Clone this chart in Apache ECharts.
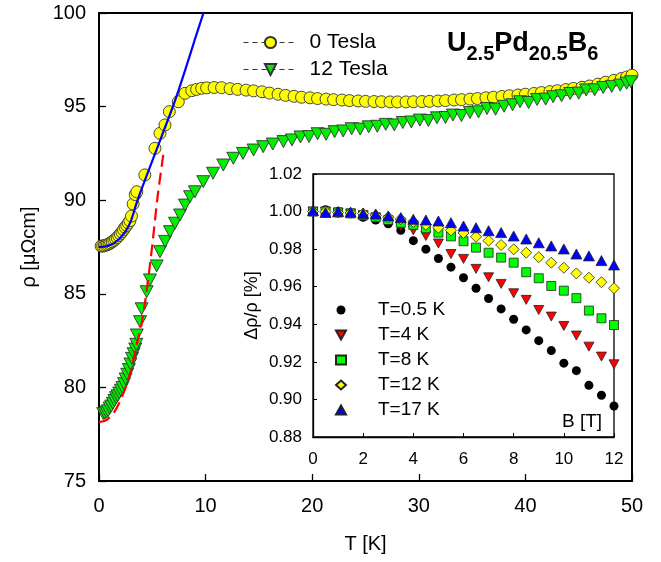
<!DOCTYPE html>
<html>
<head>
<meta charset="utf-8">
<script src="https://cdn.jsdelivr.net/npm/echarts@6/dist/echarts.min.js"></script>
<style>html,body{margin:0;padding:0;background:#fff}#c{width:661px;height:562px}</style>
</head>
<body>
<div id="c"></div>
<script>
// ---- Main plot data: resistivity rho [µΩcm] vs T [K] ----
var tesla0 = [
  [0.2,87.55],[0.35,87.55],[0.5,87.57],[0.65,87.6],[0.8,87.63],[0.95,87.67],[1.1,87.72],[1.25,87.78],
  [1.4,87.85],[1.55,87.92],[1.7,88.0],[1.85,88.1],[2.0,88.2],[2.15,88.3],[2.3,88.42],[2.45,88.55],
  [2.6,88.65],[2.75,88.78],[2.9,88.9],[3.05,89.15],[3.2,89.8],[3.4,90.3],[3.55,90.45],[4.3,91.35],
  [5.25,92.77],[5.72,93.57],[6.19,94.02],[6.6,94.73],[7.44,95.26],[8.07,95.71],[8.7,95.85],[9.16,95.92],
  [9.63,95.98],[10.1,96.0],[10.8,96.02],[11.5,96.01],[12.3,95.96],[13.0,95.92],[13.8,95.88],[14.5,95.84],
  [15.3,95.79],[16.0,95.72],[16.8,95.66],[17.5,95.6],[18.3,95.55],[19.0,95.5],[19.8,95.47],[20.5,95.43],
  [21.3,95.4],[22.0,95.37],[22.8,95.35],[23.5,95.32],[24.3,95.3],[25.0,95.28],[25.8,95.27],[26.5,95.26],
  [27.3,95.25],[28.0,95.25],[28.8,95.25],[29.5,95.26],[30.3,95.27],[31.0,95.28],[31.8,95.3],[32.5,95.32],
  [33.3,95.35],[34.0,95.37],[34.8,95.4],[35.5,95.43],[36.3,95.47],[37.0,95.5],[37.8,95.54],[38.5,95.58],
  [39.3,95.62],[40.0,95.66],[40.8,95.7],[41.5,95.75],[42.3,95.8],[43.0,95.85],[43.8,95.91],[44.5,95.97],
  [45.3,96.03],[46.0,96.1],[46.8,96.2],[47.5,96.3],[48.3,96.4],[49.0,96.5],[49.5,96.58],[50.0,96.68]
];
var tesla12 = [
  [0.4,78.6],[0.55,78.62],[0.7,78.68],[0.85,78.75],[1.0,78.9],[1.15,79.0],[1.3,79.15],[1.45,79.3],
  [1.6,79.45],[1.75,79.55],[1.9,79.7],[2.05,79.85],[2.2,80.0],[2.35,80.2],[2.5,80.45],[2.65,80.7],
  [2.8,80.95],[2.95,81.25],[3.1,81.55],[3.25,81.8],[3.4,82.05],[3.5,82.3],[3.55,82.8],[3.85,83.51],
  [4.0,84.2],[4.47,85.11],[4.78,85.74],[5.41,86.49],[5.72,87.25],[6.2,87.8],[6.66,88.32],[7.13,88.77],
  [7.6,89.21],[8.07,89.74],[8.54,90.19],[9.0,90.45],[9.78,90.99],[10.7,91.44],[11.66,91.88],[12.6,92.24],
  [13.5,92.5],[14.5,92.68],[15.4,92.86],[16.3,93.0],[17.3,93.13],[18.1,93.22],[18.9,93.38],[19.7,93.4],
  [20.5,93.55],[21.3,93.52],[22.1,93.66],[22.9,93.7],[23.7,93.82],[24.5,93.8],[25.3,93.92],[26.1,93.95],
  [26.9,94.05],[27.7,94.02],[28.5,94.15],[29.3,94.18],[30.1,94.28],[30.9,94.26],[31.7,94.4],[32.5,94.42],
  [33.2,94.55],[34.0,94.52],[34.8,94.68],[35.6,94.72],[36.4,94.9],[37.2,94.86],[38.0,95.02],[38.8,95.1],
  [39.5,95.26],[40.3,95.22],[41.1,95.38],[41.9,95.4],[42.6,95.53],[43.4,95.58],[44.2,95.7],[45.0,95.72],
  [45.7,95.89],[46.5,95.9],[47.3,96.02],[48.1,96.08],[48.9,96.15],[49.5,96.25],[49.9,96.33]
];
var fit0 = [[0,87.5],[0.5,87.52],[1,87.6],[1.5,87.75],[2,88.0],[2.5,88.35],[3,88.9],[3.5,89.8],[4,90.6],[5,92.1],[6,93.6],[7,95.1],[8,96.8],[9,98.6],[9.8,100.0]];
var fit12 = [[0,78.15],[0.5,78.2],[1,78.4],[1.5,78.75],[2,79.3],[2.5,80.0],[3,80.9],[3.5,82.2],[4,83.4],[4.5,85.3],[5,87.6],[5.5,90.2],[6.05,92.5]];

// ---- Inset data: Δρ/ρ vs B [T] ----
var fieldB = [0,0.5,1,1.5,2,2.5,3,3.5,4,4.5,5,5.5,6,6.5,7,7.5,8,8.5,9,9.5,10,10.5,11,11.5,12];
var T05 = [1.000,1.001,1.000,0.999,0.997,0.9955,0.9935,0.990,0.9845,0.980,0.975,0.9704,0.9648,0.9592,0.9537,0.9482,0.9427,0.937,0.9313,0.926,0.9193,0.9153,0.9075,0.9022,0.8965];
var T4  = [1.000,1.000,0.9995,0.999,0.998,0.9965,0.9945,0.992,0.990,0.987,0.983,0.9774,0.9748,0.9695,0.965,0.9615,0.9565,0.953,0.9476,0.9441,0.9391,0.934,0.9281,0.9228,0.9187];
var T8  = [1.000,1.000,0.9995,0.999,0.998,0.997,0.9955,0.994,0.9929,0.9911,0.9888,0.9868,0.9842,0.9808,0.9781,0.9755,0.9728,0.9677,0.9645,0.9604,0.9579,0.9539,0.9473,0.9432,0.9396];
var T12 = [1.000,1.000,0.9995,0.9993,0.999,0.998,0.997,0.996,0.9945,0.993,0.9914,0.990,0.9886,0.9866,0.9845,0.9822,0.9799,0.9781,0.9757,0.9728,0.9701,0.9671,0.9648,0.9624,0.9592];
var T17 = [1.0005,0.9995,1.000,0.9997,0.999,0.9987,0.9977,0.9968,0.9959,0.9955,0.995,0.9941,0.9923,0.9914,0.9898,0.9888,0.987,0.9854,0.9834,0.9817,0.9801,0.9774,0.9764,0.9739,0.9716];

// tick labels
var mainXTicks = [0,10,20,30,40,50];
var mainYTicks = [75,80,85,90,95,100];

function pairs(xs, ys){ return xs.map(function(x,i){ return [x, ys[i]]; }); }

var FONT = 'Liberation Sans';
var downTri = 'path://M0,0 L10,0 L5,9 Z';

var chart = echarts.init(document.getElementById('c'), null, {renderer:'canvas'});
var insetSym = function(name, sym, color, data, size, border){
  return {
    name: name, type: 'scatter', xAxisIndex: 1, yAxisIndex: 1, data: data,
    symbol: sym, symbolSize: size,
    itemStyle: {color: color, borderColor: border ? '#222' : color, borderWidth: border ? 0.8 : 0, opacity: 1},
    z: 5
  };
};

var option = {
  animation: false,
  backgroundColor: '#fff',
  textStyle: {fontFamily: FONT, color: '#000'},
  grid: [
    {left: 99, top: 13, width: 533, height: 468, show: true, borderColor: '#000', borderWidth: 2, backgroundColor: 'transparent'},
    {left: 313, top: 174, width: 301, height: 263, show: true, borderColor: '#000', borderWidth: 1.3, backgroundColor: '#fff', z: 3}
  ],
  xAxis: [
    {gridIndex: 0, type: 'value', min: mainXTicks[0], max: mainXTicks[mainXTicks.length-1], interval: 10,
     axisLine: {show: true, lineStyle: {color: '#000', width: 2}},
     axisTick: {show: true, inside: true, length: 7, lineStyle: {color: '#000', width: 1.3}},
     axisLabel: {fontSize: 20, color: '#000', margin: 15, fontFamily: FONT},
     splitLine: {show: false},
     name: 'T [K]', nameLocation: 'middle', nameGap: 53, nameTextStyle: {fontSize: 20, color: '#000', fontFamily: FONT}},
    {gridIndex: 1, type: 'value', min: 0, max: 12, interval: 2,
     axisLine: {show: true, lineStyle: {color: '#000', width: 1.3}},
     axisTick: {show: true, inside: true, length: 4, lineStyle: {color: '#000', width: 1}},
     axisLabel: {fontSize: 17, color: '#000', margin: 14, fontFamily: FONT},
     splitLine: {show: false}, z: 3}
  ],
  yAxis: [
    {gridIndex: 0, type: 'value', min: mainYTicks[0], max: mainYTicks[mainYTicks.length-1], interval: 5,
     axisLine: {show: true, lineStyle: {color: '#000', width: 2}},
     axisTick: {show: true, inside: true, length: 7, lineStyle: {color: '#000', width: 1.3}},
     axisLabel: {fontSize: 20, color: '#000', margin: 13, fontFamily: FONT},
     splitLine: {show: false},
     name: 'ρ [μΩcm]', nameLocation: 'middle', nameGap: 60, nameTextStyle: {fontSize: 20, color: '#000', fontFamily: FONT}},
    {gridIndex: 1, type: 'value', min: 0.88, max: 1.02, interval: 0.02,
     axisLine: {show: true, lineStyle: {color: '#000', width: 1.3}},
     axisTick: {show: true, inside: true, length: 4, lineStyle: {color: '#000', width: 1}},
     axisLabel: {fontSize: 17, color: '#000', margin: 11, fontFamily: FONT, formatter: function(v){ return v.toFixed(2); }},
     splitLine: {show: false},
     name: 'Δρ/ρ [%]', nameLocation: 'middle', nameGap: 52, nameTextStyle: {fontSize: 18, color: '#000', fontFamily: FONT}, z: 3}
  ],
  legend: [
    {data: ['0 Tesla', '12 Tesla'], orient: 'vertical', left: 238, top: 27, itemWidth: 54, itemHeight: 14, itemGap: 6,
     textStyle: {fontSize: 21, color: '#000', fontFamily: FONT, padding: [0,0,0,7]},
     lineStyle: {color: '#333', width: 1, type: [5,4], opacity: 1}},
    {data: ['T=0.5 K', 'T=4 K', 'T=8 K', 'T=12 K', 'T=17 K'], orient: 'vertical', left: 330, top: 295,
     itemWidth: 10, itemHeight: 9, itemGap: 5,
     textStyle: {fontSize: 19, color: '#000', fontFamily: FONT, lineHeight: 20, padding: [0,0,0,27]}, z: 6}
  ],
  series: [
    {name: '0 Tesla', type: 'line', xAxisIndex: 0, yAxisIndex: 0, data: tesla0,
     symbol: 'circle', symbolSize: 12, showSymbol: true, showAllSymbol: true,
     lineStyle: {opacity: 0, width: 0},
     itemStyle: {color: '#ffff00', borderColor: '#333', borderWidth: 0.9, opacity: 1}, z: 2},
    {name: '12 Tesla', type: 'line', xAxisIndex: 0, yAxisIndex: 0, data: tesla12,
     symbol: downTri, symbolSize: [13, 12], showSymbol: true, showAllSymbol: true,
     lineStyle: {opacity: 0, width: 0},
     itemStyle: {color: '#00ee00', borderColor: '#333', borderWidth: 0.9, opacity: 1}, z: 2},
    {name: 'fit0', type: 'line', xAxisIndex: 0, yAxisIndex: 0, data: fit0, smooth: 0.3, showSymbol: false,
     lineStyle: {color: '#0000ff', width: 2.2}, clip: true, z: 3},
    {name: 'fit12', type: 'line', xAxisIndex: 0, yAxisIndex: 0, data: fit12, smooth: 0.3, showSymbol: false,
     lineStyle: {color: '#ff0000', width: 2.2, type: [12, 6]}, clip: true, z: 3},
    insetSym('T=0.5 K', 'circle', '#000000', pairs(fieldB, T05), 9, false),
    insetSym('T=4 K', downTri, '#ff0000', pairs(fieldB, T4), [10, 9], true),
    insetSym('T=8 K', 'rect', '#00ff00', pairs(fieldB, T8), 9, true),
    insetSym('T=12 K', 'diamond', '#ffff00', pairs(fieldB, T12), 11, true),
    insetSym('T=17 K', 'triangle', '#0000ff', pairs(fieldB, T17), [11, 10], true)
  ],
  graphic: [
    {type: 'text', left: 447, top: 30, z: 10,
     style: {
       text: '{m|U}{s|2.5}{m|Pd}{s|20.5}{m|B}{s|6}',
       fontFamily: FONT,
       rich: {
         m: {fontSize: 27, fontWeight: 'bold', fontFamily: FONT, lineHeight: 27, verticalAlign: 'top', fill: '#000'},
         s: {fontSize: 20, fontWeight: 'bold', fontFamily: FONT, lineHeight: 20, verticalAlign: 'top', padding: [14,0,0,0], fill: '#000'}
       }
     }},
    {type: 'text', x: 582, y: 422, z: 10,
     style: {text: 'B [T]', fontSize: 19, fontFamily: FONT, fill: '#000', textAlign: 'center', textVerticalAlign: 'middle'}}
  ]
};
chart.setOption(option);
</script>
</body>
</html>
